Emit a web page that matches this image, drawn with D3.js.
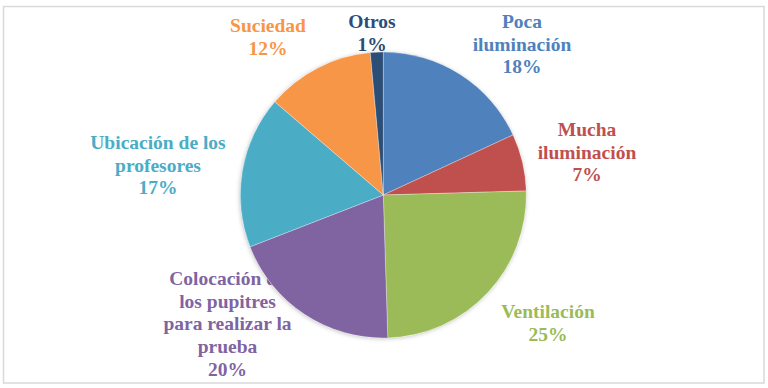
<!DOCTYPE html>
<html>
<head>
<meta charset="utf-8">
<script src="https://cdn.jsdelivr.net/npm/d3@7"></script>
<style>
  html, body { margin: 0; padding: 0; background: #fff; }
  svg { display: block; }
</style>
</head>
<body>
<svg id="chart" width="768" height="388"></svg>
<script>
// ---- data ----
const categories = [
  "Poca iluminación",
  "Mucha iluminación",
  "Ventilación",
  "Colocación de los pupitres para realizar la prueba",
  "Ubicación de los profesores",
  "Suciedad",
  "Otros"
];
// slice shares (labels show Excel's rounded values)
const values = [18.1, 6.45, 24.95, 19.6, 17.2, 12.25, 1.45];
const percentLabels = ["18%", "7%", "25%", "20%", "17%", "12%", "1%"];
const labelLines = [
  ["Poca", "iluminación"],
  ["Mucha", "iluminación"],
  ["Ventilación"],
  ["Colocación de", "los pupitres", "para realizar la", "prueba"],
  ["Ubicación de los", "profesores"],
  ["Suciedad"],
  ["Otros"]
];

// ---- styling / layout ----
const colors = ["#4F81BD", "#C0504D", "#9BBB59", "#8064A2", "#4BACC6", "#F79646", "#2C4D75"];
const labelAnchors = [ // [centerX, first baseline]
  [522, 28], [587, 136], [548, 318], [227.5, 285], [158, 149], [268, 32], [372, 28]
];
const lineStep = 22.7;
const fontSize = 19.5;
const fontFamily = "'Liberation Serif', 'Times New Roman', serif";

const svg = d3.select("#chart");

// border
svg.append("rect")
  .attr("x", 3.5).attr("y", 6.5).attr("width", 760.5).attr("height", 376.5)
  .attr("fill", "#fff").attr("stroke", "#D9D9D9").attr("stroke-width", 1.5);

const defs = svg.append("defs");
const f = defs.append("filter").attr("id", "shadow")
  .attr("x", "-10%").attr("y", "-10%").attr("width", "120%").attr("height", "120%");
f.append("feDropShadow").attr("dx", -0.5).attr("dy", 0.8).attr("stdDeviation", 2.2)
  .attr("flood-color", "#000").attr("flood-opacity", 0.25);

// labels (drawn beneath the pie, as in the reference)
const labels = svg.append("g");
categories.forEach((c, i) => {
  const [lx, ly] = labelAnchors[i];
  const lines = labelLines[i].concat([percentLabels[i]]);
  const t = labels.append("text")
    .attr("text-anchor", "middle")
    .attr("font-family", fontFamily)
    .attr("font-weight", "bold")
    .attr("font-size", fontSize)
    .attr("fill", colors[i]);
  lines.forEach((ln, k) => {
    t.append("tspan").attr("x", lx).attr("y", ly + k * lineStep).text(ln);
  });
});

// pie
const cx = 383.3, cy = 195, r = 143;
const pie = d3.pie().sort(null).value(d => d)(values);
const arc = d3.arc().innerRadius(0).outerRadius(r);
const g = svg.append("g").attr("transform", `translate(${cx},${cy})`);
g.append("circle").attr("r", r).attr("fill", "#fff").attr("filter", "url(#shadow)");
g.selectAll("path").data(pie).join("path")
  .attr("d", arc)
  .attr("fill", (d, i) => colors[i])
  .attr("stroke", "#fff").attr("stroke-width", 0.5).attr("stroke-opacity", 0.6);
</script>
</body>
</html>
